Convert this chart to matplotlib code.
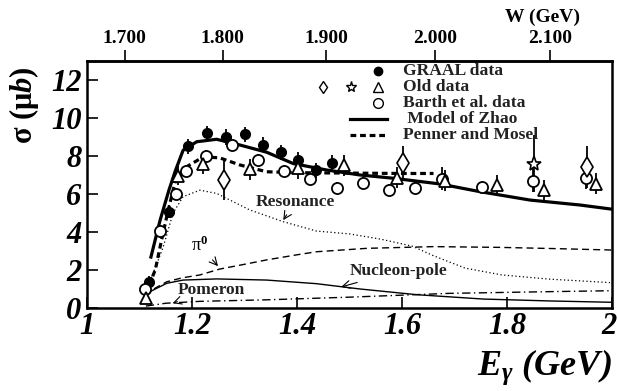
import numpy as np
import matplotlib
matplotlib.use("Agg")
import matplotlib.pyplot as plt

plt.rcParams['font.family'] = ['Liberation Serif', 'DejaVu Serif']
plt.rcParams['mathtext.fontset'] = 'custom'
plt.rcParams['mathtext.rm'] = 'Liberation Serif:bold'
plt.rcParams['mathtext.it'] = 'Liberation Serif:bold:italic'
plt.rcParams['mathtext.bf'] = 'Liberation Serif:bold'

# GRAAL data (filled circles)
graal_e = [1.118, 1.156, 1.192, 1.228, 1.265, 1.300, 1.335, 1.369, 1.402, 1.436, 1.466]
graal_s = [1.37, 5.07, 8.5, 9.2, 9.0, 9.14, 8.6, 8.2, 7.8, 7.25, 7.65]
graal_err = [0.3, 0.35, 0.4, 0.4, 0.4, 0.4, 0.4, 0.4, 0.4, 0.4, 0.4]

# Barth et al. data (open circles)
barth_e = [1.110, 1.139, 1.170, 1.189, 1.227, 1.277, 1.326, 1.376, 1.425, 1.477,
           1.525, 1.576, 1.625, 1.677, 1.752, 1.850, 1.950]
barth_s = [1.0, 4.05, 6.0, 7.2, 8.0, 8.56, 7.79, 7.21, 6.77, 6.32,
           6.6, 6.21, 6.33, 6.8, 6.37, 6.7, 6.85]
barth_err = [0.2, 0.3, 0.3, 0.3, 0.3, 0.3, 0.3, 0.3, 0.3, 0.3,
             0.3, 0.3, 0.3, 0.6, 0.3, 0.6, 0.6]

# old data: triangles, diamonds, star
tri_e = [1.112, 1.174, 1.220, 1.310, 1.402, 1.490, 1.591, 1.682, 1.781, 1.871, 1.970]
tri_s = [0.5, 6.95, 7.6, 7.3, 7.35, 7.5, 6.85, 6.7, 6.45, 6.2, 6.55]
tri_err = [0.3, 0.5, 0.55, 0.55, 0.55, 0.55, 0.55, 0.55, 0.55, 0.55, 0.55]

dia_e = [1.261, 1.602, 1.952]
dia_s = [6.74, 7.65, 7.44]
dia_err = [1.07, 0.9, 1.1]

star_e = [1.852]
star_s = [7.6]
star_err = [1.5]

# model curves
zhao_e = [1.121, 1.139, 1.156, 1.168, 1.183, 1.209, 1.247, 1.291, 1.342, 1.393,
          1.457, 1.52, 1.583, 1.672, 1.749, 1.844, 1.939, 2.0]
zhao_s = [2.6, 4.6, 6.2, 7.2, 8.3, 8.75, 8.88, 8.58, 8.2, 7.6,
          7.26, 7.0, 6.83, 6.53, 6.12, 5.68, 5.42, 5.2]

penner_e = [1.118, 1.13, 1.142, 1.154, 1.168, 1.19, 1.222, 1.253, 1.291, 1.342,
            1.40, 1.50, 1.60, 1.66]
penner_s = [1.2, 2.0, 3.58, 5.07, 6.65, 7.44, 7.96, 7.9, 7.53, 7.17,
            7.12, 7.1, 7.08, 7.08]

res_e = [1.12, 1.145, 1.164, 1.183, 1.215, 1.247, 1.31, 1.374, 1.437, 1.50,
         1.56, 1.62, 1.66, 1.72, 1.79, 1.88, 2.0]
res_s = [1.4, 3.2, 5.0, 5.86, 6.2, 6.03, 5.16, 4.54, 4.05, 3.9,
         3.62, 3.25, 2.75, 2.1, 1.74, 1.52, 1.33]

pi0_e = [1.112, 1.13, 1.152, 1.18, 1.215, 1.253, 1.30, 1.342, 1.40, 1.437,
         1.533, 1.66, 1.787, 1.90, 2.0]
pi0_s = [0.6, 1.05, 1.38, 1.58, 1.74, 2.05, 2.3, 2.53, 2.8, 2.96,
         3.14, 3.23, 3.19, 3.12, 3.05]

nuc_e = [1.12, 1.152, 1.183, 1.247, 1.342, 1.437, 1.52, 1.628, 1.755, 1.882, 2.0]
nuc_s = [0.86, 1.3, 1.47, 1.53, 1.47, 1.28, 1.0, 0.7, 0.47, 0.37, 0.3]

pom_e = [1.112, 1.15, 1.215, 1.342, 1.50, 1.69, 1.882, 2.0]
pom_s = [0.1, 0.25, 0.35, 0.43, 0.57, 0.77, 0.86, 0.91]

x_ticks = [1, 1.2, 1.4, 1.6, 1.8, 2]
x_ticklabels = ['1', '1.2', '1.4', '1.6', '1.8', '2']
y_ticks = [0, 2, 4, 6, 8, 10, 12]
w_ticks = [1.7, 1.8, 1.9, 2.0, 2.1]
w_ticklabels = ['1.700', '1.800', '1.900', '2.000', '2.100']

mp = 0.938


def e_to_w(e):
    e = np.asarray(e, dtype=float)
    return np.sqrt(np.clip(mp ** 2 + 2 * mp * e, 0, None))


def w_to_e(w):
    w = np.asarray(w, dtype=float)
    return (w ** 2 - mp ** 2) / (2 * mp)


fig = plt.figure(figsize=(6.18, 3.91), dpi=100)
ax = fig.add_axes([0.1408, 0.2123, 0.8495, 0.6317])

# curves
ax.plot(zhao_e, zhao_s, color='black', lw=2.3, solid_capstyle='butt')
ax.plot(penner_e, penner_s, color='black', lw=2.3, linestyle=(0, (1.8, 1.2)))
ax.plot(res_e, res_s, color='black', lw=0.9, linestyle=(0, (1, 2)))
ax.plot(pi0_e, pi0_s, color='black', lw=1.0, linestyle=(0, (5, 3)))
ax.plot(nuc_e, nuc_s, color='black', lw=1.0)
ax.plot(pom_e, pom_s, color='black', lw=1.0, linestyle=(0, (6, 2.5, 1, 2.5)))

eb = dict(fmt='none', ecolor='black', elinewidth=1.3, capsize=0)
ax.errorbar(graal_e, graal_s, yerr=graal_err, **eb)
ax.errorbar(barth_e, barth_s, yerr=barth_err, **eb)
ax.errorbar(tri_e, tri_s, yerr=tri_err, **eb)
ax.errorbar(dia_e, dia_s, yerr=dia_err, **eb)
ax.errorbar(star_e, star_s, yerr=star_err, **eb)

ax.plot(graal_e, graal_s, 'o', ms=7, color='black', mfc='black')
ax.plot(barth_e, barth_s, 'o', ms=8, color='black', mfc='white', mew=1.3)
ax.plot(tri_e, tri_s, '^', ms=9, color='black', mfc='white', mew=1.3)
ax.plot(dia_e, dia_s, 'd', ms=10, color='black', mfc='white', mew=1.2)
ax.plot(star_e, star_s, '*', ms=11, color='black', mfc='white', mew=1.2)

# annotations
txt = dict(fontsize=12.5, fontweight='bold', color='#222222')
arr = dict(arrowstyle='->', lw=0.8, color='black', mutation_scale=14)
ax.annotate('Resonance', xy=(1.371, 4.5), xytext=(1.396, 5.6),
            ha='center', va='center', arrowprops=arr, **txt)
ax.annotate('π$^{0}$', xy=(1.253, 2.09), xytext=(1.215, 3.3),
            ha='center', va='center', arrowprops=arr, fontsize=13,
            fontweight='normal')
ax.annotate('Nucleon-pole', xy=(1.479, 1.07), xytext=(1.594, 1.95),
            ha='center', va='center', arrowprops=arr, **txt)
ax.annotate('Pomeron', xy=(1.158, 0.2), xytext=(1.236, 0.95),
            ha='center', va='center', arrowprops=arr, **txt)

# legend drawn by hand
lx_m, lx_t = 0.5537, 0.601
ly = [0.9595, 0.8947, 0.831, 0.765, 0.700]
ax.plot([lx_m], [ly[0]], 'o', ms=6, color='black', transform=ax.transAxes)
ax.plot([0.4495], [ly[1]], 'd', ms=6, color='black', mfc='white', mew=1.0,
        transform=ax.transAxes)
ax.plot([0.5029], [ly[1]], '*', ms=8, color='black', mfc='white', mew=1.0,
        transform=ax.transAxes)
ax.plot([lx_m], [ly[1]], '^', ms=7, color='black', mfc='white', mew=1.0,
        transform=ax.transAxes)
ax.plot([lx_m], [ly[2]], 'o', ms=7, color='black', mfc='white', mew=1.0,
        transform=ax.transAxes)
ax.plot([0.501, 0.571], [ly[3], ly[3]], color='black', lw=2.3,
        transform=ax.transAxes)
ax.plot([0.501, 0.571], [ly[4], ly[4]], color='black', lw=2.3,
        linestyle=(0, (1.8, 1.2)), transform=ax.transAxes)
labels = ['GRAAL data', 'Old data', 'Barth et al. data', ' Model of Zhao', 'Penner and Mosel']
for yy, lab in zip(ly, labels):
    ax.text(lx_t, yy, lab, transform=ax.transAxes, fontsize=12.6,
            fontweight='bold', va='center', ha='left', color='#222222')

ax.set_xlim(1, 2)
ax.set_ylim(0, 13)
ax.set_xticks(x_ticks)
# last label ("2") is drawn separately, nudged left so it stays on the canvas
ax.set_xticklabels(x_ticklabels[:-1] + [''])
ax.set_yticks(y_ticks)
tick_font = dict(fontsize=22, fontweight='bold', fontstyle='italic')
for lab in ax.get_xticklabels() + ax.get_yticklabels():
    lab.set_fontsize(22)
    lab.set_fontweight('bold')
    lab.set_fontstyle('italic')
ax.annotate(x_ticklabels[-1], xy=(x_ticks[-1], 0), xycoords=('data', 'axes fraction'),
            xytext=(-2.5, -3), textcoords='offset points', ha='center', va='top',
            annotation_clip=False, **tick_font)
ax.tick_params(axis='both', direction='in', length=8, width=1.2)
ax.tick_params(axis='x', pad=3)
ax.tick_params(axis='y', pad=4)
for sp in ax.spines.values():
    sp.set_linewidth(1.8)

ax.set_ylabel('σ (μ$b$)', fontsize=22, fontweight='bold')
ax.yaxis.set_label_coords(-0.088, 0.82)
ax.set_xlabel('$E_{\\gamma}$ (GeV)', fontsize=26, fontweight='bold',
              fontstyle='italic', ha='right')
ax.xaxis.set_label_coords(1.0, -0.16)

secax = ax.secondary_xaxis('top', functions=(e_to_w, w_to_e))
secax.set_xticks(w_ticks)
secax.set_xticklabels(w_ticklabels)
secax.tick_params(direction='out', length=8, width=1.2, pad=2)
for lab in secax.get_xticklabels():
    lab.set_fontsize(14)
    lab.set_fontweight('bold')
secax.spines['top'].set_linewidth(1.8)
fig.text(0.878, 0.955, 'W (GeV)', fontsize=14, fontweight='bold',
         ha='center', va='center')

fig.savefig('out.png', dpi=100)
